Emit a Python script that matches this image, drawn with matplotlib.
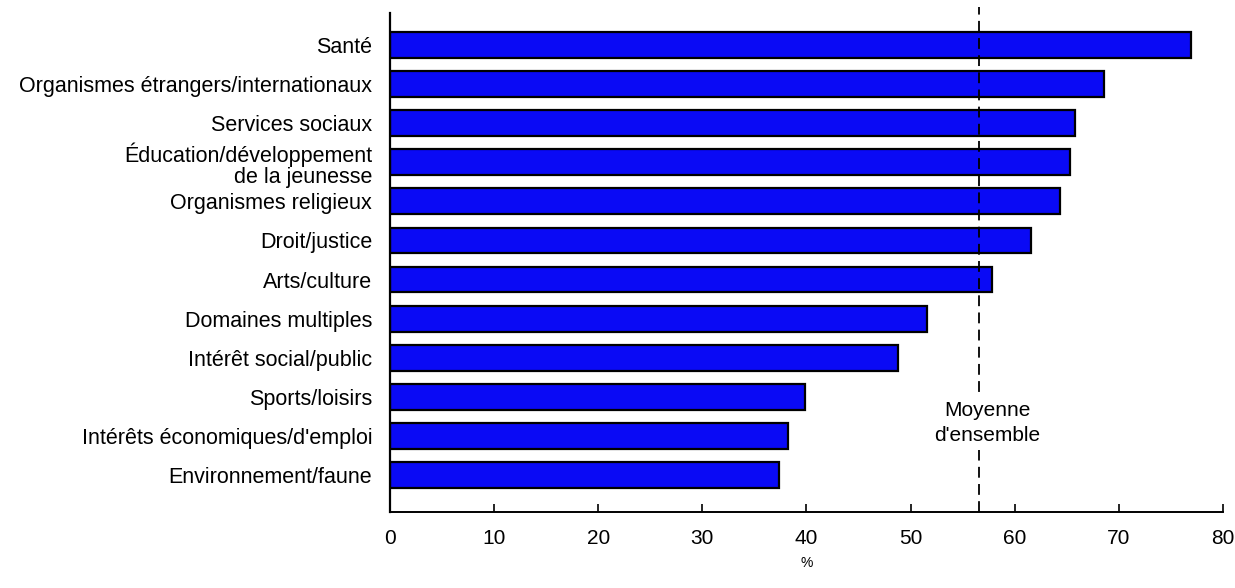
import numpy as np
import matplotlib.pyplot as plt

plt.rcParams['font.family'] = ['Liberation Sans', 'DejaVu Sans']

categories = ["Santé", "Organismes étrangers/internationaux", "Services sociaux",
              "Éducation/développement\nde la jeunesse", "Organismes religieux",
              "Droit/justice", "Arts/culture", "Domaines multiples",
              "Intérêt social/public", "Sports/loisirs",
              "Intérêts économiques/d'emploi", "Environnement/faune"]
values = [77.0, 68.6, 65.8, 65.3, 64.4, 61.6, 57.8, 51.6, 48.8, 39.9, 38.2, 37.4]
mean_all = 56.6
xticks = [0, 10, 20, 30, 40, 50, 60, 70, 80]

fig = plt.figure(figsize=(12.35, 5.88), dpi=100)
ax = fig.add_axes([0.316, 0.129, 0.674, 0.849])

ypos = np.arange(len(categories))
ax.barh(ypos, values, height=0.66, color='#0a0af5', edgecolor='black', linewidth=1.6)

ax.axvline(mean_all, ymin=0, ymax=1.012, color='black', linestyle=(0, (6, 3.5)),
           linewidth=1.3, clip_on=False, zorder=3)
ax.text(mean_all + 0.8, 9.67, "Moyenne\nd'ensemble", ha='center', va='center',
        fontsize=15, linespacing=1.35, zorder=4,
        bbox=dict(facecolor='white', edgecolor='none', pad=4))

ax.set_xlim(0, 80)
ax.set_ylim(11.95, -0.82)
ax.set_yticks(ypos)
ax.set_yticklabels(categories, fontsize=15.5, linespacing=1.0)
ax.set_xticks(xticks)
ax.tick_params(axis='x', direction='in', length=6, width=1.2, labelsize=15, pad=12)
ax.tick_params(axis='y', length=0, pad=13)
ax.set_xlabel("%", fontsize=10, labelpad=6)

for side in ['top', 'right']:
    ax.spines[side].set_visible(False)
ax.spines['left'].set_linewidth(1.6)
ax.spines['bottom'].set_linewidth(1.4)

fig.savefig("out.png", dpi=100)
